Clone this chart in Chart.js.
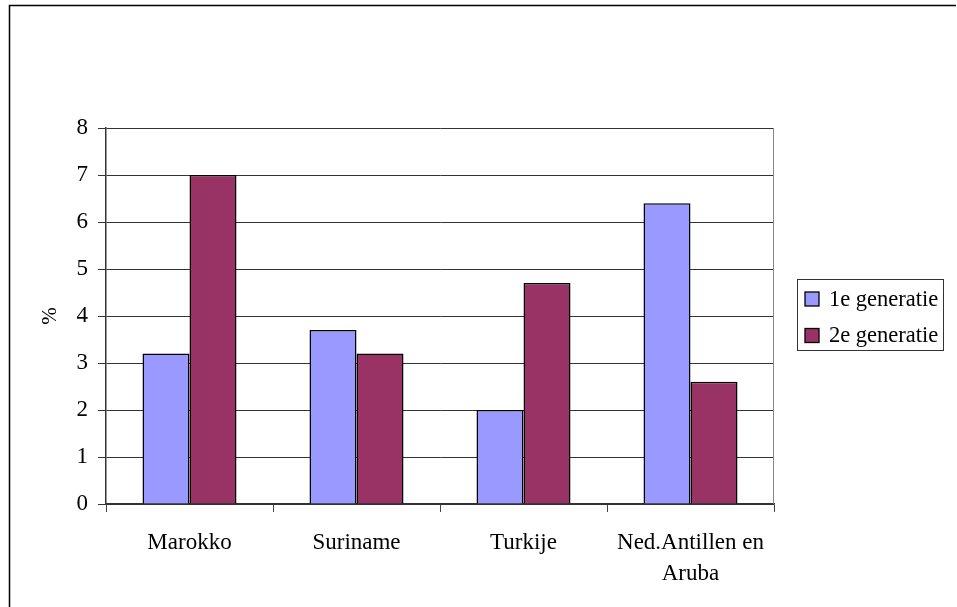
<!DOCTYPE html>
<html>
<head>
<meta charset="utf-8">
<script src="https://cdn.jsdelivr.net/npm/chart.js@4/dist/chart.umd.min.js"></script>
<style>
html,body{margin:0;padding:0;background:#fff;}
#wrap{width:957px;height:607px;position:relative;}
</style>
</head>
<body>
<div id="wrap"><canvas id="c" width="957" height="607"></canvas></div>
<script>
const categories = [["Marokko"], ["Suriname"], ["Turkije"], ["Ned.Antillen en", "Aruba"]];
const gen1 = [3.2, 3.7, 2.0, 6.4];
const gen2 = [7.0, 3.2, 4.7, 2.6];
const seriesNames = ["1e generatie", "2e generatie"];
const yTicks = [0, 1, 2, 3, 4, 5, 6, 7, 8];
const yTitle = "%";

const FONT = "'Liberation Serif', 'Times New Roman', serif";

const framePlugin = {
  id: 'frame',
  beforeDraw(chart) {
    const ctx = chart.ctx;
    ctx.save();
    ctx.fillStyle = '#fff';
    ctx.fillRect(0, 0, chart.width, chart.height);
    ctx.strokeStyle = '#000';
    ctx.lineWidth = 1.5;
    ctx.beginPath();
    ctx.moveTo(9.5, chart.height + 5);
    ctx.lineTo(9.5, 5.5);
    ctx.lineTo(956, 5.5);
    ctx.stroke();
    ctx.restore();
  },
  afterDraw(chart) {
    const ctx = chart.ctx;
    const a = chart.chartArea;
    ctx.save();
    ctx.strokeStyle = '#888';
    ctx.lineWidth = 1;
    ctx.beginPath();
    ctx.moveTo(Math.round(a.right) - 0.5, a.top);
    ctx.lineTo(Math.round(a.right) - 0.5, a.bottom);
    ctx.stroke();
    // legend
    const lx = 797, ly = 279, lw = 146, lh = 71;
    ctx.strokeStyle = '#333';
    ctx.strokeRect(lx + 0.5, ly + 0.5, lw, lh);
    ctx.font = "22.5px " + FONT;
    ctx.textBaseline = 'middle';
    ctx.textAlign = 'left';
    chart.data.datasets.forEach((ds, i) => {
      const cy = 299 + i * 36.5;
      ctx.fillStyle = ds.backgroundColor;
      ctx.fillRect(805, cy - 7, 14, 14);
      ctx.strokeStyle = '#000';
      ctx.lineWidth = 1.3;
      ctx.strokeRect(805, cy - 7, 14, 14);
      ctx.fillStyle = '#000';
      ctx.fillText(ds.label, 829, cy + 1);
    });
    ctx.restore();
  }
};

new Chart(document.getElementById('c'), {
  type: 'bar',
  data: {
    labels: categories,
    datasets: [
      { label: seriesNames[0], data: gen1, backgroundColor: '#9999FF', borderColor: '#000', borderWidth: 1.5 },
      { label: seriesNames[1], data: gen2, backgroundColor: '#993366', borderColor: '#000', borderWidth: 1.5 }
    ]
  },
  plugins: [framePlugin],
  options: {
    responsive: false,
    animation: false,
    devicePixelRatio: 1,
    layout: { padding: { top: 128, right: 183, left: 0, bottom: 0 } },
    plugins: { legend: { display: false }, tooltip: { enabled: false } },
    datasets: { bar: { categoryPercentage: 0.563, barPercentage: 1.0 } },
    scales: {
      x: {
        afterFit(s) { s.height = 103; },
        grid: { offset: true, drawOnChartArea: false, drawTicks: true, tickLength: 8, color: '#444', lineWidth: 1 },
        border: { display: true, color: '#333', width: 1.5 },
        ticks: { color: '#000', font: { family: FONT, size: 23, lineHeight: 1.35 }, padding: 15, maxRotation: 0, autoSkip: false }
      },
      y: {
        min: 0, max: 8,
        afterFit(s) { s.width = 106; },
        afterBuildTicks(s) { s.ticks = yTicks.map(v => ({ value: v })); },
        grid: { color: '#333', lineWidth: 1, tickLength: 8, drawTicks: true },
        border: { display: true, color: '#333', width: 1.5 },
        ticks: { color: '#000', font: { family: FONT, size: 23 }, padding: 10 },
        title: { display: true, text: yTitle, color: '#000', font: { family: FONT, size: 21, lineHeight: 1.2 }, padding: { top: 38, bottom: 0 } }
      }
    }
  }
});
</script>
</body>
</html>
